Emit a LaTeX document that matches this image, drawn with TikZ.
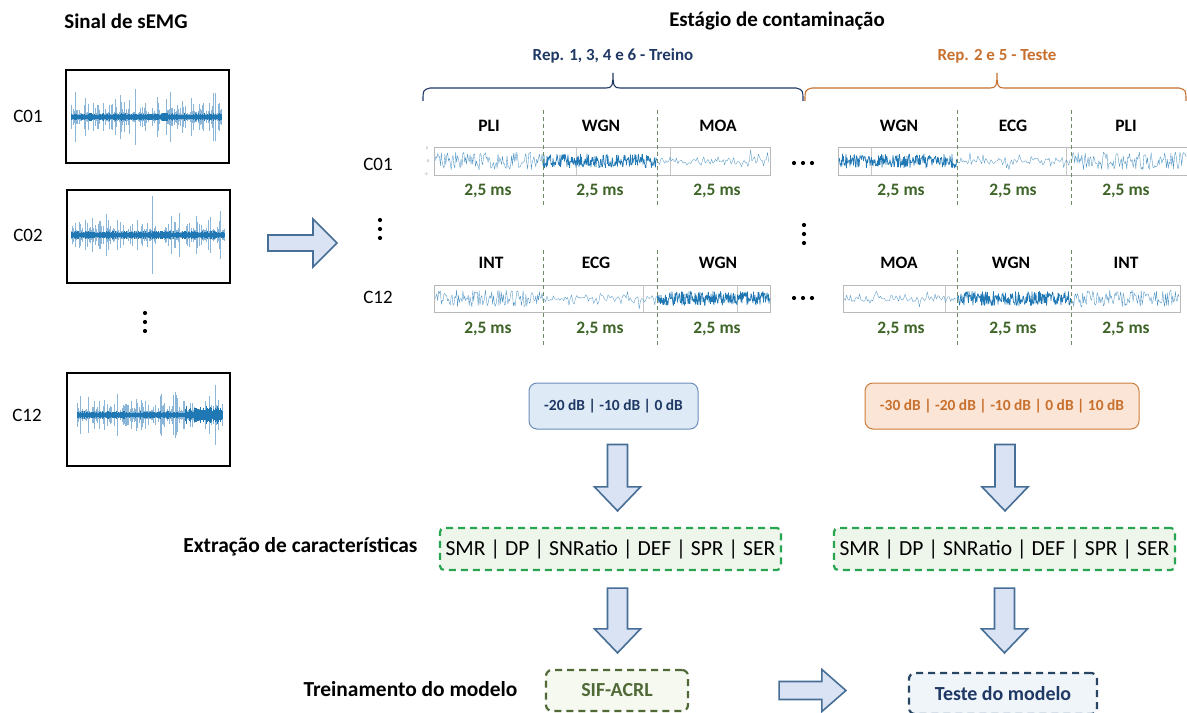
\documentclass[tikz,border=0pt]{standalone}
\usepackage{fontspec}
\setmainfont{Carlito}
\usetikzlibrary{calc}

\definecolor{sig}{RGB}{31,119,180}
\definecolor{siglight}{RGB}{140,182,216}
\definecolor{navy}{RGB}{31,56,100}
\definecolor{ora}{RGB}{200,112,45}
\definecolor{olive}{RGB}{62,100,40}
\definecolor{divc}{RGB}{110,140,100}
\definecolor{arrfill}{RGB}{218,227,243}
\definecolor{arrdraw}{RGB}{70,110,150}
\definecolor{dbbfill}{RGB}{222,235,247}
\definecolor{dbbdraw}{RGB}{110,140,185}
\definecolor{dbofill}{RGB}{251,229,214}
\definecolor{dbodraw}{RGB}{205,125,60}
\definecolor{featdraw}{RGB}{40,165,80}
\definecolor{featfill}{RGB}{238,246,236}
\definecolor{sifdraw}{RGB}{80,105,55}
\definecolor{siffill}{RGB}{245,249,240}
\definecolor{tstdraw}{RGB}{40,70,100}
\definecolor{tstfill}{RGB}{240,245,250}

% block arrow pointing down, from #1 (top of shaft) to #2 (tip)
\newcommand\arrowdown[2]{%
  \path[blockarrow] let \p1=(#1), \p2=(#2) in
   (\x1-10bp,\y1) -- (\x1+10bp,\y1) -- (\x1+10bp,\y2+24bp) -- (\x1+23bp,\y2+24bp)
   -- (\x1,\y2) -- (\x1-23bp,\y2+24bp) -- (\x1-10bp,\y2+24bp) -- cycle;}
% block arrow pointing right: start, tip, shaft half width, head half width
\newcommand\arrowright[4]{%
  \path[blockarrow] let \p1=(#1), \p2=(#2) in
   (\x1,\y1+#3) -- (\x2-24bp,\y1+#3) -- (\x2-24bp,\y1+#4) -- (\x2,\y1)
   -- (\x2-24bp,\y1-#4) -- (\x2-24bp,\y1-#3) -- (\x1,\y1-#3) -- cycle;}
% noisy trace: x0, x1, centre, step, style, offset expression
\newcommand\noisepath[6]{%
  \pgfmathtruncatemacro\nn{(#2-#1)/#4}%
  \draw[#5] (#1,#3) \foreach \k [evaluate=\k as \xx using #1+\k*#4] in {1,...,\nn} { -- (\xx,{#3+#6}) };}
% sEMG burst trace: x0, x1, centre, seed, max spike, core width
\newcommand\semg[6]{%
  \pgfmathsetseed{#4}%
  \foreach \k in {#1,...,#2}{%
    \pgfmathsetmacro\h{#5*rnd*rnd*rnd+3}%
    \draw[spike] (\k,{#3-\h}) -- (\k,{#3+\h});
    \pgfmathsetmacro\g{1.5+2.5*rnd}%
    \draw[sig, line width=0.4] (\k,{#3-\g}) -- (\k,{#3+\g});
  }%
  \draw[sig, line width=#6] (#1,#3) -- (#2,#3);}
% curly brace: x0, x1, tip x, colour
\newcommand\bracepath[4]{%
  \draw[#4, line width=1.1] (#1,101) .. controls (#1,90) .. (#1+7,88) -- (#3-7,88)
    .. controls (#3-1,88) and (#3,86) .. (#3,73) .. controls (#3,86) and (#3+1,88) .. (#3+7,88)
    -- (#2-7,88) .. controls (#2,90) .. (#2,101);}

\tikzset{
  title/.style={font=\fontsize{21}{24}\selectfont\bfseries},
  chan/.style={font=\fontsize{19}{22}\selectfont},
  nlabel/.style={font=\fontsize{17.5}{20}\selectfont\bfseries},
  ms/.style={font=\fontsize{17.5}{20}\selectfont\bfseries, text=olive},
  rep/.style={font=\fontsize{17}{20}\selectfont\bfseries},
  side/.style={font=\fontsize{21.5}{24}\selectfont\bfseries, anchor=east},
  sigframe/.style={draw=black, line width=2bp, minimum width=163bp, minimum height=93bp, inner sep=0},
  spike/.style={siglight, line width=0.45},
  strip/.style={draw=gray!55, line width=0.6},
  gridl/.style={gray!45, line width=0.5},
  divider/.style={divc, dash pattern=on 4bp off 3bp, line width=0.9},
  pli/.style={sig!80, line width=0.35, line join=round},
  wgn/.style={sig, line width=0.7, line join=round},
  moa/.style={sig!75, line width=0.35, line join=round},
  blockarrow/.style={fill=arrfill, draw=arrdraw, line width=1.6bp, line join=miter},
  dbbox/.style={rounded corners=8bp, line width=1bp, minimum height=46bp, inner sep=0,
    font=\fontsize{15.5}{18}\selectfont\bfseries},
  featbox/.style={draw=featdraw, fill=featfill, dash pattern=on 7bp off 5bp, line width=2.2bp,
    rounded corners=4bp, minimum width=341bp, minimum height=42bp, inner sep=0,
    font=\fontsize{21.6}{24}\selectfont},
  modelbox/.style={dash pattern=on 7bp off 5bp, line width=2.2bp, rounded corners=6bp,
    minimum height=41bp, inner sep=0, font=\fontsize{20}{23}\selectfont\bfseries},
  vdot/.style={fill=black, circle, inner sep=0, minimum size=4.2bp},
}

\begin{document}
\begin{tikzpicture}[x=1bp, y=-1bp]
\useasboundingbox (0,0) rectangle (1187,713);
\clip (0,0) rectangle (1187,713);
\fill[white] (0,0) rectangle (1187,713);

% ---------- raw sEMG column ----------
\node[title] (tsig) at (126,21) {Sinal de sEMG};
\node[sigframe] (s1) at (147.5,116.5) {};
\node[sigframe] (s2) at (148.5,236.5) {};
\node[sigframe] (s3) at (148.5,419.5) {};
\node[chan] (c1) at (28,116) {C01};
\node[chan] (c2) at (28,235) {C02};
\node[chan] (c3) at (27,415) {C12};
\semg{71}{221}{117}{11}{40}{2.4}
\semg{71}{224}{235}{27}{42}{2.4}
\semg{77}{222}{415}{53}{38}{3.6}
\pgfmathsetseed{5}
\foreach \k in {185,...,222}{%
  \pgfmathsetmacro\h{3+6*rnd}%
  \draw[sig, line width=0.8] (\k,{415-\h}) -- (\k,{415+\h});}
\node[vdot] (d1) at (145,313) {};
\node[vdot] (d2) at (145,322) {};
\node[vdot] (d3) at (145,331) {};

\coordinate (bigA) at (268,243);
\coordinate (bigB) at (337,243);
\arrowright{bigA}{bigB}{8bp}{24bp}

% ---------- contamination stage ----------
\node[title] (tstage) at (777,21) {Estágio de contaminação};
\node[rep, text=navy] (rtr) at (613,56) {Rep. 1, 3, 4 e 6 - Treino};
\node[rep, text=ora] (rts) at (997,56) {Rep. 2 e 5 - Teste};
\bracepath{423}{803}{613}{navy}
\bracepath{805}{1186}{997}{ora}

% strip frames and grid
\draw[strip] (434,147) rectangle (770,175);
\draw[strip] (434,285) rectangle (770,312);
\draw[strip] (838,147) rectangle (1192,175);
\draw[strip] (843,285) rectangle (1180,312);
\foreach \gx in {576,670} \draw[gridl] (\gx,147) -- (\gx,175);
\foreach \gx in {871,1066} \draw[gridl] (\gx,147) -- (\gx,175);
\foreach \gx in {643,737} \draw[gridl] (\gx,285) -- (\gx,312);
\foreach \gx in {945} \draw[gridl] (\gx,285) -- (\gx,312);
\node[font=\fontsize{4}{4}\selectfont, text=gray] (ax2) at (427,148) {2};
\node[font=\fontsize{4}{4}\selectfont, text=gray] (ax0) at (428,161) {0};
\node[font=\fontsize{4}{4}\selectfont, text=gray] (axm) at (426,174) {-2};

% noisy traces
\pgfmathsetseed{101}
\noisepath{435}{543}{161}{0.9}{pli}{9*rand}
\noisepath{543}{657}{161}{0.5}{wgn}{7*rand}
\noisepath{657}{770}{161}{1.3}{moa}{3*rand+11*rand*rand*rand}
\noisepath{435}{543}{298.5}{0.9}{pli}{8.5*rand}
\noisepath{543}{657}{298.5}{1.3}{moa}{3*rand+11*rand*rand*rand}
\noisepath{657}{770}{298.5}{0.5}{wgn}{7*rand}
\noisepath{839}{957}{161}{0.5}{wgn}{7*rand}
\noisepath{957}{1071}{161}{1.3}{moa}{3*rand+11*rand*rand*rand}
\noisepath{1071}{1187}{161}{0.9}{pli}{9*rand}
\noisepath{844}{957}{298.5}{1.3}{moa}{3*rand+11*rand*rand*rand}
\noisepath{957}{1071}{298.5}{0.5}{wgn}{7*rand}
\noisepath{1071}{1179}{298.5}{0.9}{pli}{8.5*rand}

% segment dividers
\foreach \dx in {543,657,957,1071}{%
  \draw[divider] (\dx,110) -- (\dx,208);
  \draw[divider] (\dx,250) -- (\dx,345);}

% segment labels
\node[chan] (cm1) at (378,164) {C01};
\node[chan] (cm2) at (378,297) {C12};
\foreach \lx/\lt in {489/PLI, 601/WGN, 718/MOA, 899/WGN, 1013/ECG, 1126/PLI}
  \node[nlabel] at (\lx,126) {\lt};
\foreach \lx/\lt in {491/INT, 596/ECG, 718/WGN, 899/MOA, 1011/WGN, 1126/INT}
  \node[nlabel] at (\lx,263) {\lt};
\foreach \lx in {488,600,717,901,1013,1126}{%
  \node[ms] at (\lx,191) {2,5 ms};
  \node[ms] at (\lx,329) {2,5 ms};}

% ellipses between blocks
\node[vdot] (e1) at (380,220) {};
\node[vdot] (e2) at (380,229) {};
\node[vdot] (e3) at (380,238) {};
\node[vdot] (e4) at (804,225) {};
\node[vdot] (e5) at (804,234) {};
\node[vdot] (e6) at (804,243) {};
\foreach \hx in {794,803,812}{%
  \node[vdot] at (\hx,163) {};
  \node[vdot] at (\hx,298) {};}

% ---------- SNR levels, features, model ----------
\node[dbbox, draw=dbbdraw, fill=dbbfill, text=navy, minimum width=169bp] (dbL) at (613.5,406) {-20 dB | -10 dB | 0 dB};
\node[dbbox, draw=dbodraw, fill=dbofill, text=ora, minimum width=274bp] (dbR) at (1002,406) {-30 dB | -20 dB | -10 dB | 0 dB | 10 dB};

\node[featbox] (featL) at (610.5,549) {SMR | DP | SNRatio | DEF | SPR | SER};
\node[featbox] (featR) at (1004.5,549) {SMR | DP | SNRatio | DEF | SPR | SER};
\node[side] (lfeat) at (421,547) {Extração de características};

\node[modelbox, draw=sifdraw, fill=siffill, text=sifdraw, minimum width=142bp] (sif) at (617,690.5) {SIF-ACRL};
\node[modelbox, draw=tstdraw, fill=tstfill, text=navy, minimum width=188bp] (tst) at (1003,693.5) {Teste do modelo};
\node[side] (ltrain) at (521,689) {Treinamento do modelo};

\arrowdown{$(dbL.south)+(4,15)$}{$(featL.north)+(0,-16)$}
\arrowdown{$(dbR.south)+(3,15)$}{$(featR.north)+(0,-16)$}
\arrowdown{$(featL.south)+(7,17)$}{$(sif.north)+(0,-16)$}
\arrowdown{$(featR.south)+(0,17)$}{$(tst.north)+(0,-19)$}
\arrowright{$(sif.east)+(90,0)$}{$(tst.west)+(-62,-3)$}{9bp}{21bp}
\end{tikzpicture}
\end{document}
